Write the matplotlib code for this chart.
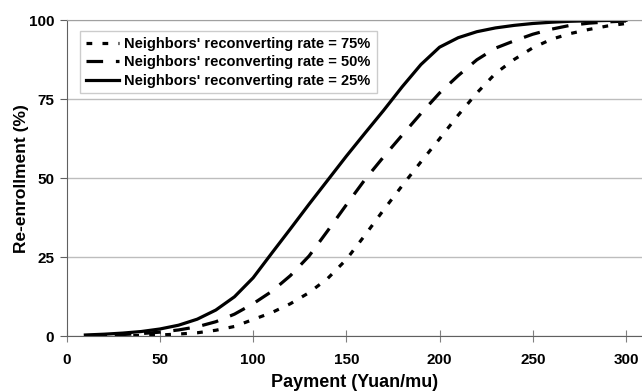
import matplotlib
matplotlib.use("Agg")
import matplotlib.pyplot as plt

payment = [10, 20, 30, 40, 50, 60, 70, 80, 90, 100, 110, 120, 130, 140, 150,
           160, 170, 180, 190, 200, 210, 220, 230, 240, 250, 260, 270, 280, 290, 300]
rate75 = [0.05, 0.1, 0.15, 0.25, 0.4, 0.7, 1.1, 1.9, 3.1, 5.3, 7.5, 10.3, 13.8, 18.3, 24.3,
          32.0, 40.0, 47.7, 55.2, 62.5, 70.0, 77.0, 83.2, 87.6, 91.3, 94.0, 95.8, 97.1, 98.2, 99.0]
rate50 = [0.2, 0.35, 0.55, 0.85, 1.3, 2.0, 3.0, 4.6, 7.0, 10.3, 14.2, 19.2, 25.4, 33.4, 41.6,
          49.6, 56.8, 63.7, 70.5, 77.0, 82.5, 87.5, 91.2, 93.5, 95.6, 97.2, 98.4, 99.1, 99.5, 99.8]
rate25 = [0.4, 0.65, 1.0, 1.5, 2.3, 3.5, 5.4, 8.3, 12.5, 18.5, 26.3, 34.0, 41.8, 49.4, 57.0,
          64.3, 71.5, 79.0, 86.0, 91.5, 94.5, 96.4, 97.6, 98.4, 99.0, 99.4, 99.7, 99.85, 99.95, 100]
labels = ["Neighbors' reconverting rate = 75%",
          "Neighbors' reconverting rate = 50%",
          "Neighbors' reconverting rate = 25%"]
xticks = [0, 50, 100, 150, 200, 250, 300]
yticks = [0, 25, 50, 75, 100]

plt.rcParams['font.family'] = ['Liberation Sans', 'DejaVu Sans']
plt.rcParams['font.weight'] = 'bold'

fig = plt.figure(figsize=(6.42, 3.91), dpi=100)
ax = fig.add_axes([0.1039, 0.140, 0.8961, 0.808])

ax.plot(payment, rate75, color='black', lw=2.3, dashes=(1.8, 3.2), label=labels[0])
ax.plot(payment, rate50, color='black', lw=2.3, dashes=(5.2, 4.0), label=labels[1])
ax.plot(payment, rate25, color='black', lw=2.3, label=labels[2])

ax.set_xlim(0, 308.6)
ax.set_ylim(0, 100)
ax.set_xticks(xticks)
ax.set_yticks(yticks)
ax.yaxis.grid(True, color='#bdbdbd', lw=1)
ax.set_axisbelow(True)
ax.spines['right'].set_visible(False)
ax.spines['top'].set_color('#a0a0a0')
ax.spines['left'].set_color('#606060')
ax.spines['bottom'].set_color('#606060')
ax.tick_params(axis='x', direction='inout', length=8, color='#808080', labelsize=11, pad=8)
ax.tick_params(axis='y', direction='out', length=5, color='#606060', labelsize=11, pad=4)
for lab in ax.get_xticklabels() + ax.get_yticklabels():
    lab.set_fontweight('bold')

ax.set_xlabel('Payment (Yuan/mu)', fontsize=13, fontweight='bold', labelpad=5)
ax.set_ylabel('Re-enrollment (%)', fontsize=12.5, fontweight='bold', labelpad=0)

leg = ax.legend(loc='upper left', bbox_to_anchor=(0.023, 0.966), borderaxespad=0,
                frameon=True, fancybox=False, edgecolor='#c0c0c0', fontsize=10.5,
                handlelength=2.3, handletextpad=0.35, borderpad=0.4, labelspacing=0.3)
leg.get_frame().set_linewidth(1)
for t in leg.get_texts():
    t.set_fontweight('bold')

fig.savefig('out.png', dpi=100)
